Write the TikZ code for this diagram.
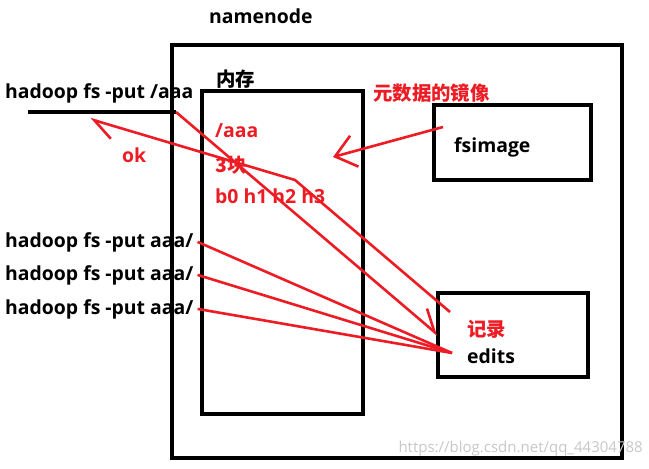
\documentclass[tikz,border=0pt]{standalone}
\usepackage{fontspec}
\setmainfont{Open Sans}
\newfontfamily\cjk{Noto Sans CJK SC}
\usetikzlibrary{arrows.meta}
\definecolor{paintred}{RGB}{237,28,36}
\tikzset{box/.style={draw,line width=3.3pt,inner sep=0pt}  }
\tikzset{txt/.style={font=\fontsize{19.4}{22}\selectfont\bfseries,inner sep=0pt}  }
\tikzset{rtxt/.style={txt,text=paintred}  }
\tikzset{redline/.style={draw=paintred,line width=2.6pt}  }

\begin{document}
\begin{tikzpicture}[x=1pt,y=-1pt]
\useasboundingbox (0,0) rectangle (649,469);

  % boxes
  \node[box,minimum width=450pt,minimum height=413pt] (namenode) at (397,251.5) {};
  \node[box,minimum width=161pt,minimum height=323pt] (mem) at (282.5,252.5) {};
  \node[box,minimum width=157pt,minimum height=75pt] (fsimage) at (512.5,142.5) {};
  \node[box,minimum width=150pt,minimum height=84pt] (edits) at (513,335) {};

  \node[txt,anchor=base west] (nnname) at (209,23) {namenode};
  \node[txt,anchor=west] (memname) at (216,79) {\cjk 内存};
  \node[txt,anchor=base west] (fsname) at (454,152) {fsimage};
  \node[txt,anchor=base west] (editsname) at (467,363) {edits};

  % client commands
  \node[txt,anchor=base west] (put) at (5,98) {hadoop fs -put /aaa};
  \foreach \n/\y in {1/247,2/280,3/314}
  {
    \node[txt,anchor=base west] (dir\n) at (5,\y) {hadoop fs -put aaa/};
  }

  % red notes
  \node[rtxt,anchor=base west] (ok) at (122,162) {ok};
  \node[rtxt,anchor=base west] (file) at (215,137) {/aaa};
  \node[rtxt,anchor=base west] (blocks) at (215,172) {\cjk 3块};
  \node[rtxt,anchor=base west] (hosts) at (215,203) {b0 h1 h2 h3};
  \node[rtxt,anchor=west] (mirror) at (373,93) {\cjk 元数据的镜像};
  \node[rtxt,anchor=west] (record) at (467,329) {\cjk 记录};

  \coordinate (putstart) at (28,112);
  \coordinate (putend) at (176,112);
  \coordinate (okfrom) at (450,312);
  \coordinate (okbend) at (295,180);
  \coordinate (oktip) at (90,119);
  \coordinate (logtip) at (438,335);
  \coordinate (mirrorfrom) at (443,127);
  \coordinate (mirrortip) at (333,157);
  \coordinate (editsin) at (452,353);

  \draw[line width=3.3pt] (putstart) -- (putend);

  \draw[redline,-{Straight Barb[length=21pt,width=26pt,harpoon]}] (putend) -- (logtip);
  \draw[redline,-{Straight Barb[length=21pt,width=26pt,harpoon]}] (okfrom) -- (okbend) -- (oktip);
  \draw[redline,-{Straight Barb[length=20pt,width=32pt]}] (mirrorfrom) -- (mirrortip);
  \foreach \n in {1,2,3}
  {
    \draw[redline] ([xshift=4pt]dir\n.east) -- (editsin);
  }

  \node[anchor=west,text=black!22,font=\fontsize{15}{15}\selectfont] (mark) at (395,449) {https://blog.csdn.net/qq\_44304788};
\end{tikzpicture}
\end{document}
